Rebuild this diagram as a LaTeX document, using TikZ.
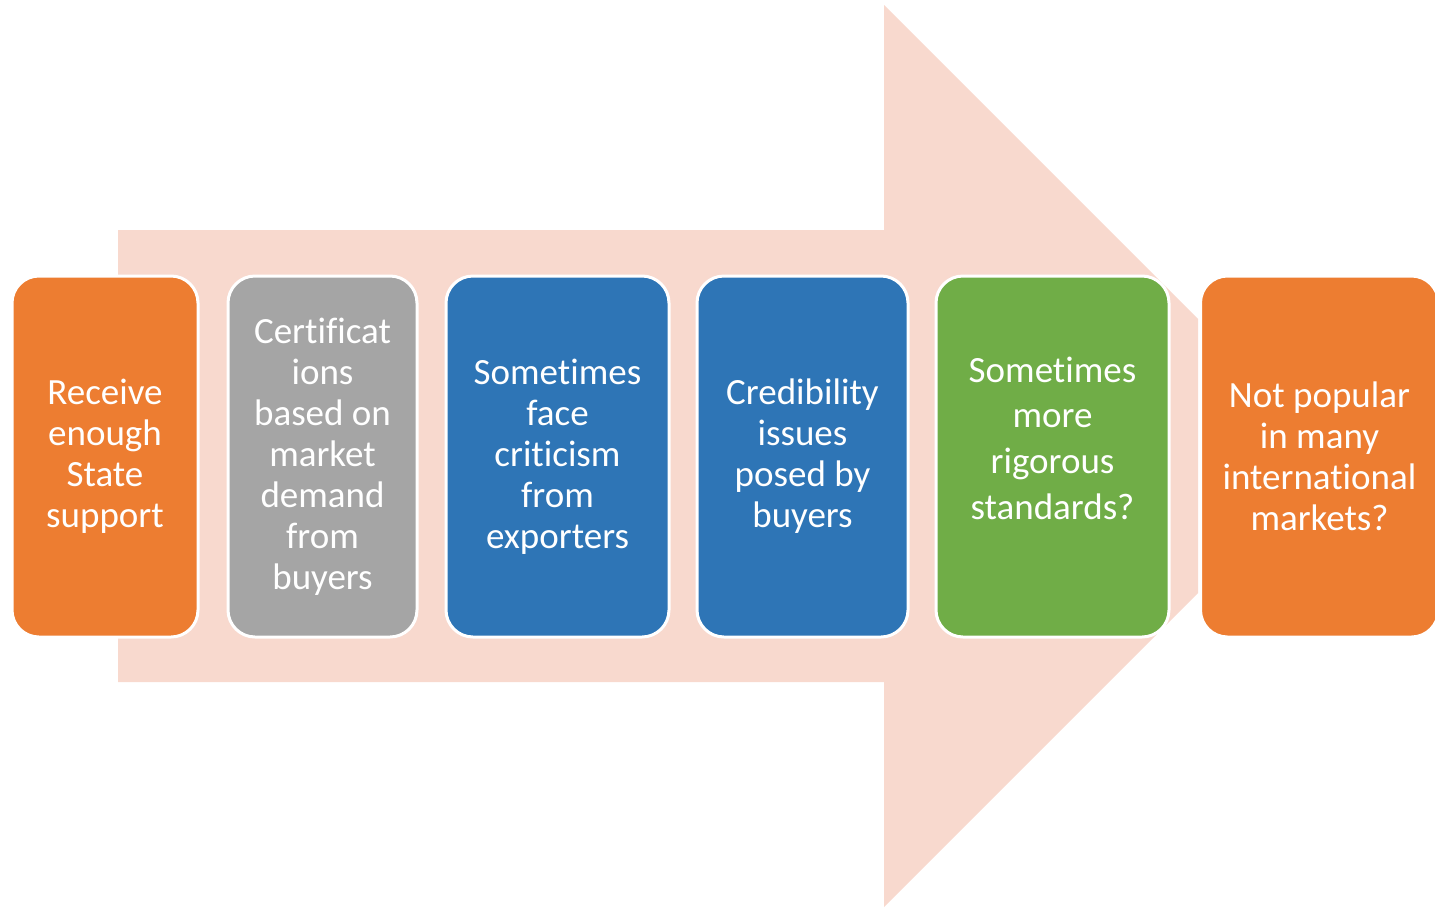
\documentclass[tikz,border=0pt]{standalone}
\usepackage{fontspec}
\setmainfont{Carlito}[Ligatures={NoCommon}]
\definecolor{arrowpink}{HTML}{F8D9CE}
\definecolor{boxorange}{HTML}{ED7D31}
\definecolor{boxgray}{HTML}{A5A5A5}
\definecolor{boxblue}{HTML}{2E75B6}
\definecolor{boxgreen}{HTML}{70AD47}
\tikzset{
  stepbox/.style={draw=white, line width=3pt, rounded corners=27pt, fill=#1,
    text=white, align=center, inner sep=0pt,
    font=\fontsize{37}{41}\selectfont},
  txt/.style={text=white, align=center, inner sep=0pt,
    font=\fontsize{37}{45.7}\selectfont},
}
\begin{document}
\begin{tikzpicture}[x=1pt,y=-1pt]
\useasboundingbox (0,0) rectangle (1435,908);
\clip (0,0) rectangle (1435,908);
\fill[arrowpink] (118,230) -- (884,230) -- (884,5) -- (1198,319) -- (1198,593)
  -- (884,907) -- (884,682) -- (118,682) -- cycle;
\node[stepbox=boxorange, minimum width=186pt, minimum height=361pt] (b1) at (105,456.5)
  {Receive\\enough\\State\\support};
\node[stepbox=boxgray, minimum width=189pt, minimum height=361pt] (b2) at (322.5,456.5)
  {Certificat\\ions\\based on\\market\\demand\\from\\buyers};
\node[stepbox=boxblue, minimum width=223pt, minimum height=361pt] (b3) at (557.5,456.5)
  {Sometimes\\face\\criticism\\from\\exporters};
\node[stepbox=boxblue, minimum width=211pt, minimum height=361pt] (b4) at (802.5,456.5)
  {Credibility\\issues\\posed by\\buyers};
\node[stepbox=boxgreen, minimum width=233pt, minimum height=361pt] (b5) at (1052.5,456.5) {};
\node[txt] (t5) at ([yshift=18.5pt]b5.center) {Sometimes\\more\\rigorous\\standards?};
\node[stepbox=boxorange, minimum width=238pt, minimum height=361pt] (b6) at (1319.5,456.5)
  {Not popular\\in many\\international\\markets?};
\end{tikzpicture}
\end{document}
